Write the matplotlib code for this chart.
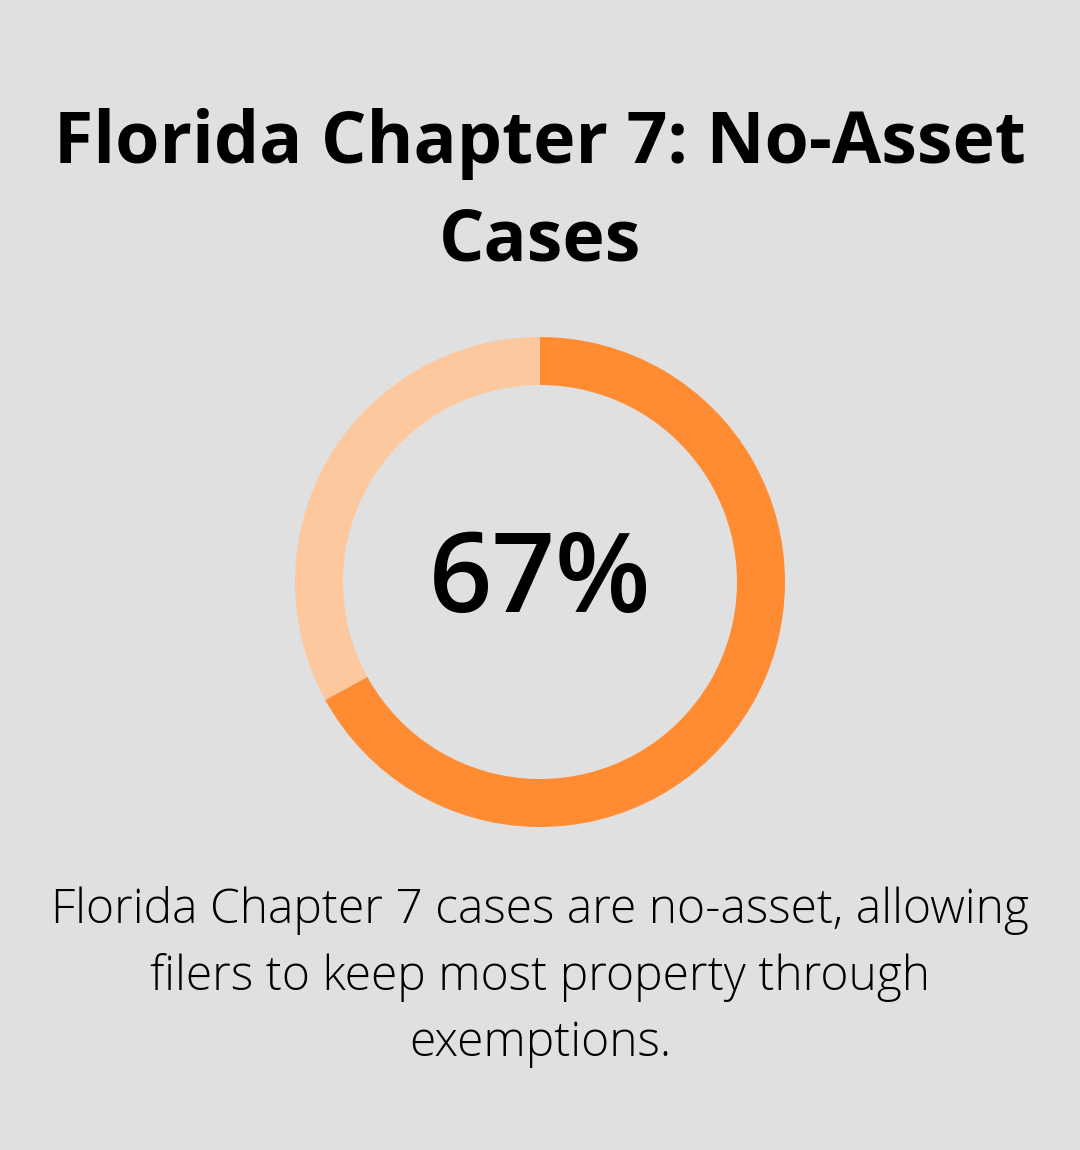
import matplotlib
matplotlib.use("Agg")
import matplotlib.pyplot as plt

title = "Florida Chapter 7: No-Asset\nCases"
labels = ["No-asset", "Other"]
values = [67, 33]
center_label = "67%"
caption = "Florida Chapter 7 cases are no-asset, allowing\nfilers to keep most property through\nexemptions."

bg = "#DFE0DF"
colors = ["#FF8C33", "#FDC89E"]

W, H = 1080, 1150
fig = plt.figure(figsize=(W / 100, H / 100), dpi=100, facecolor=bg)

cx, cy, R = 540, 582, 245
ax = fig.add_axes([(cx - R) / W, (H - cy - R) / H, 2 * R / W, 2 * R / H])
ax.set_facecolor(bg)
ax.pie(values, colors=colors, startangle=90, counterclock=False, radius=1,
       wedgeprops=dict(width=48 / R, linewidth=0))
ax.set_xlim(-1, 1)
ax.set_ylim(-1, 1)
ax.set_aspect("equal")
ax.axis("off")
ax.text(0, -0.005, center_label, ha="center", va="center", fontsize=80,
        fontweight="semibold", family="Open Sans", color="#000000")

fig.text(0.5, 1 - 193 / H, title, ha="center", va="center", fontsize=51.5,
         fontweight="bold", family="Open Sans", color="#000000", linespacing=1.47)
fig.text(0.5, 1 - 977 / H, caption, ha="center", va="center", fontsize=34.6,
         fontweight="light", family="Open Sans", color="#000000", linespacing=1.47)

fig.savefig("out.png", dpi=100, facecolor=bg)
